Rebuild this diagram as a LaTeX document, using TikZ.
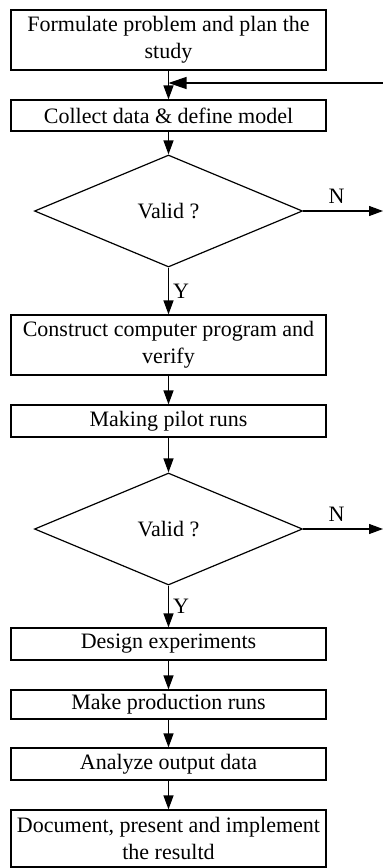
\documentclass[tikz,border=0pt]{standalone}
\usepackage{fontspec}
\setmainfont{Liberation Serif}
\usetikzlibrary{shapes.geometric,arrows.meta}

\tikzset{
  procbox/.style={draw, line width=1.2pt, minimum width=315pt, inner sep=0pt,
    align=center, font=\fontsize{22}{27}\selectfont},
  decision/.style={draw, diamond, line width=1.2pt, minimum width=268pt,
    minimum height=112pt, inner sep=0pt, font=\fontsize{22}{27}\selectfont},
  flow/.style={line width=1.2pt, -{Triangle[length=14pt,width=10pt]}},
  branch/.style={font=\fontsize{22}{27}\selectfont, inner sep=0pt}
}

\begin{document}
\begin{tikzpicture}[x=1pt,y=-1pt]
  \useasboundingbox (0,0) rectangle (383,868);

  % process steps and decisions
  \node[procbox, minimum height=60pt] (formulate) at (168.5,40)
    {Formulate problem and plan the\\study};
  \node[procbox, minimum height=31pt] (collect) at (168.5,115.5)
    {Collect data \& define model};
  \node[decision] (valid1) at (168.5,211) {Valid ?};
  \node[procbox, minimum height=60pt] (construct) at (168.5,345)
    {Construct computer program and\\verify};
  \node[procbox, minimum height=32pt] (pilot) at (168.5,421)
    {Making pilot runs};
  \node[decision] (valid2) at (168.5,529) {Valid ?};
  \node[procbox, minimum height=32pt] (design) at (168.5,644)
    {Design experiments};
  \node[procbox, minimum height=29pt] (production) at (168.5,704.5)
    {Make production runs};
  \node[procbox, minimum height=32pt] (analyze) at (168.5,764)
    {Analyze output data};
  \node[procbox, minimum height=57pt] (document) at (168.5,838.5)
    {Document, present and implement\\the resultd};

  % loose ends at the right margin
  \coordinate (back) at (383,83);
  \coordinate (join) at (formulate.south |- back);
  \coordinate (no1) at (383,211);
  \coordinate (no2) at (383,529);

  % connectors
  \draw[flow] (formulate.south) -- (collect.north);
  \draw[line width=1.2pt, -{Triangle[length=18pt,width=12pt]}] (back) -- (join);
  \draw[flow] (collect.south) -- (valid1.north);
  \draw[flow] (valid1.east) -- node[branch, pos=0.42, above=7pt] (n1) {N} (no1);
  \draw[flow] (valid1.south) -- node[branch, right=4pt] (y1) {Y} (construct.north);
  \draw[flow] (construct.south) -- (pilot.north);
  \draw[flow] (pilot.south) -- (valid2.north);
  \draw[flow] (valid2.east) -- node[branch, pos=0.42, above=7pt] (n2) {N} (no2);
  \draw[flow] (valid2.south) -- node[branch, right=4pt] (y2) {Y} (design.north);
  \draw[flow] (design.south) -- (production.north);
  \draw[flow] (production.south) -- (analyze.north);
  \draw[flow] (analyze.south) -- (document.north);
\end{tikzpicture}
\end{document}
